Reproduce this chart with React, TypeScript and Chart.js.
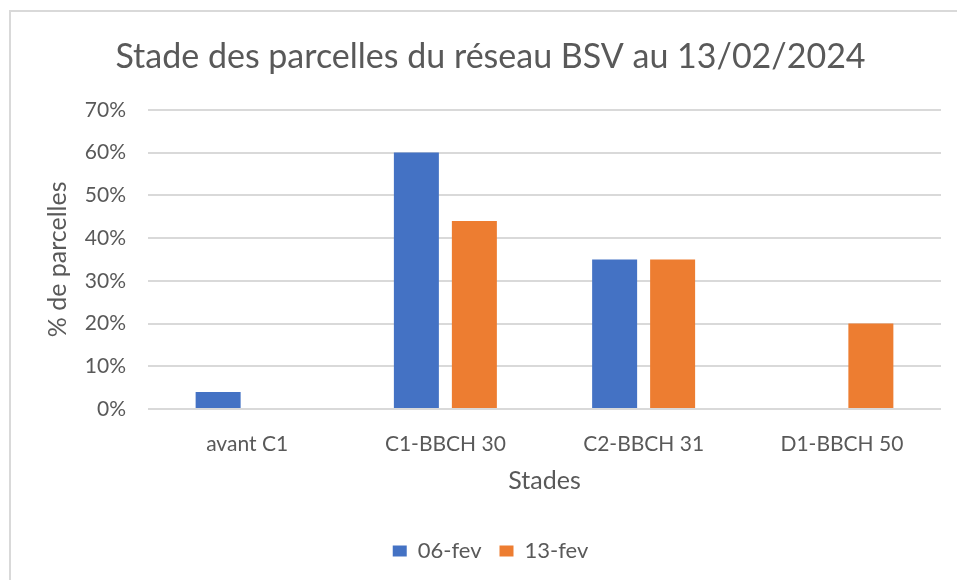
import React, { useEffect, useRef } from "react";
import { Chart, registerables } from "chart.js";

Chart.register(...registerables);

const categories = ["avant C1", "C1-BBCH 30", "C2-BBCH 31", "D1-BBCH 50"];
const series1Label = "06-fev";
const series1Values = [4, 60, 35, 0];
const series2Label = "13-fev";
const series2Values = [0, 44, 35, 20];
const yMax = 70;
const yStep = 10;
const chartTitle = "Stade des parcelles du réseau BSV au 13/02/2024";
const yTitle = "% de parcelles";
const xTitle = "Stades";

const FONT = "Lato, 'Open Sans', sans-serif";
const TEXT = "#595959";
const GRID = "#d9d9d9";

export default function App() {
  const ref = useRef<HTMLCanvasElement | null>(null);

  useEffect(() => {
    if (!ref.current) return;
    const chart = new Chart(ref.current, {
      type: "bar",
      data: {
        labels: categories,
        datasets: [
          {
            label: series1Label,
            data: series1Values,
            backgroundColor: "#4472C4",
            borderWidth: 0,
            barPercentage: 0.776,
            categoryPercentage: 0.585,
          },
          {
            label: series2Label,
            data: series2Values,
            backgroundColor: "#ED7D31",
            borderWidth: 0,
            barPercentage: 0.776,
            categoryPercentage: 0.585,
          },
        ],
      },
      options: {
        animation: false,
        responsive: true,
        maintainAspectRatio: false,
        layout: { padding: { left: 40, right: 16, top: 0, bottom: 8 } },
        plugins: {
          title: {
            display: true,
            text: chartTitle,
            color: TEXT,
            font: { family: FONT, size: 34, weight: "normal" },
            padding: { top: 37, bottom: 32 },
          },
          legend: {
            position: "bottom",
            labels: {
              color: TEXT,
              font: { family: FONT, size: 22 },
              boxWidth: 14,
              boxHeight: 11,
              padding: 18,
            },
          },
          tooltip: { enabled: false },
        },
        scales: {
          x: {
            grid: { display: false, drawTicks: false },
            border: { display: false },
            ticks: {
              color: TEXT,
              font: { family: FONT, size: 21 },
              padding: 23,
              maxRotation: 0,
            },
            title: {
              display: true,
              text: xTitle,
              color: TEXT,
              font: { family: FONT, size: 25 },
              padding: { top: 0, bottom: 26 },
            },
            afterFit: (s: any) => {
              s.height = 113;
            },
          },
          y: {
            min: 0,
            max: yMax,
            grid: { color: GRID, lineWidth: 2, drawTicks: false },
            border: { display: false },
            ticks: {
              stepSize: yStep,
              color: TEXT,
              font: { family: FONT, size: 21 },
              padding: 22,
              callback: (v: any) => v + "%",
            },
            title: {
              display: true,
              text: yTitle,
              color: TEXT,
              font: { family: FONT, size: 25 },
              padding: { top: 3, bottom: 0 },
            },
            afterFit: (s: any) => {
              s.width = 108;
            },
          },
        },
      },
    });
    return () => chart.destroy();
  }, []);

  return (
    <div
      style={{
        position: "fixed",
        left: 0,
        top: 0,
        width: 957,
        height: 580,
        background: "#fff",
      }}
    >
      <div
        style={{
          position: "absolute",
          left: 9,
          top: 10,
          right: 0,
          bottom: 0,
          borderLeft: "2px solid #d9d9d9",
          borderTop: "2px solid #d9d9d9",
        }}
      />
      <div style={{ position: "absolute", left: 0, top: 0, width: 957, height: 580 }}>
        <canvas ref={ref} />
      </div>
    </div>
  );
}
